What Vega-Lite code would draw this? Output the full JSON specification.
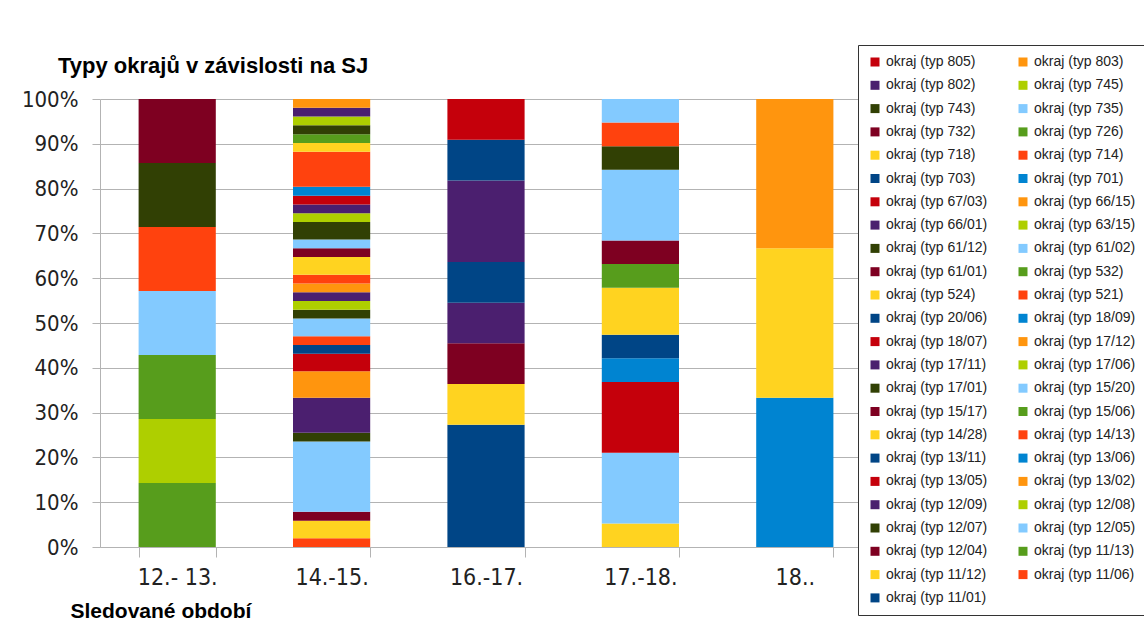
{
  "$schema": "https://vega.github.io/schema/vega-lite/v6.json",
  "width": 772,
  "height": 448,
  "autosize": {"type": "none"},
  "padding": {"left": 100, "top": 99, "right": 272, "bottom": 92},
  "background": "white",
  "title": {
    "text": "Typy okrajů v závislosti na SJ",
    "anchor": "start",
    "frame": "group",
    "font": "Liberation Sans",
    "fontSize": 22,
    "fontWeight": "bold",
    "color": "#000000",
    "dx": -42,
    "dy": 53,
    "offset": 20
  },
  "data": {
    "values": [
      {"obdobi": "12.- 13.", "typ": "okraj (typ 11/13)", "pocet": 1, "poradi": 4},
      {"obdobi": "12.- 13.", "typ": "okraj (typ 12/08)", "pocet": 1, "poradi": 8},
      {"obdobi": "12.- 13.", "typ": "okraj (typ 15/06)", "pocet": 1, "poradi": 16},
      {"obdobi": "12.- 13.", "typ": "okraj (typ 15/20)", "pocet": 1, "poradi": 18},
      {"obdobi": "12.- 13.", "typ": "okraj (typ 521)", "pocet": 1, "poradi": 26},
      {"obdobi": "12.- 13.", "typ": "okraj (typ 61/12)", "pocet": 1, "poradi": 31},
      {"obdobi": "12.- 13.", "typ": "okraj (typ 732)", "pocet": 1, "poradi": 41},

      {"obdobi": "14.-15.", "typ": "okraj (typ 11/06)", "pocet": 1, "poradi": 2},
      {"obdobi": "14.-15.", "typ": "okraj (typ 11/12)", "pocet": 2, "poradi": 3},
      {"obdobi": "14.-15.", "typ": "okraj (typ 12/04)", "pocet": 1, "poradi": 5},
      {"obdobi": "14.-15.", "typ": "okraj (typ 12/05)", "pocet": 8, "poradi": 6},
      {"obdobi": "14.-15.", "typ": "okraj (typ 12/07)", "pocet": 1, "poradi": 7},
      {"obdobi": "14.-15.", "typ": "okraj (typ 12/09)", "pocet": 4, "poradi": 9},
      {"obdobi": "14.-15.", "typ": "okraj (typ 13/02)", "pocet": 3, "poradi": 10},
      {"obdobi": "14.-15.", "typ": "okraj (typ 13/05)", "pocet": 2, "poradi": 11},
      {"obdobi": "14.-15.", "typ": "okraj (typ 13/11)", "pocet": 1, "poradi": 13},
      {"obdobi": "14.-15.", "typ": "okraj (typ 14/13)", "pocet": 1, "poradi": 14},
      {"obdobi": "14.-15.", "typ": "okraj (typ 15/20)", "pocet": 2, "poradi": 18},
      {"obdobi": "14.-15.", "typ": "okraj (typ 17/01)", "pocet": 1, "poradi": 19},
      {"obdobi": "14.-15.", "typ": "okraj (typ 17/06)", "pocet": 1, "poradi": 20},
      {"obdobi": "14.-15.", "typ": "okraj (typ 17/11)", "pocet": 1, "poradi": 21},
      {"obdobi": "14.-15.", "typ": "okraj (typ 17/12)", "pocet": 1, "poradi": 22},
      {"obdobi": "14.-15.", "typ": "okraj (typ 521)", "pocet": 1, "poradi": 26},
      {"obdobi": "14.-15.", "typ": "okraj (typ 524)", "pocet": 2, "poradi": 27},
      {"obdobi": "14.-15.", "typ": "okraj (typ 61/01)", "pocet": 1, "poradi": 29},
      {"obdobi": "14.-15.", "typ": "okraj (typ 61/02)", "pocet": 1, "poradi": 30},
      {"obdobi": "14.-15.", "typ": "okraj (typ 61/12)", "pocet": 2, "poradi": 31},
      {"obdobi": "14.-15.", "typ": "okraj (typ 63/15)", "pocet": 1, "poradi": 32},
      {"obdobi": "14.-15.", "typ": "okraj (typ 66/01)", "pocet": 1, "poradi": 33},
      {"obdobi": "14.-15.", "typ": "okraj (typ 67/03)", "pocet": 1, "poradi": 35},
      {"obdobi": "14.-15.", "typ": "okraj (typ 701)", "pocet": 1, "poradi": 36},
      {"obdobi": "14.-15.", "typ": "okraj (typ 714)", "pocet": 4, "poradi": 38},
      {"obdobi": "14.-15.", "typ": "okraj (typ 718)", "pocet": 1, "poradi": 39},
      {"obdobi": "14.-15.", "typ": "okraj (typ 726)", "pocet": 1, "poradi": 40},
      {"obdobi": "14.-15.", "typ": "okraj (typ 743)", "pocet": 1, "poradi": 43},
      {"obdobi": "14.-15.", "typ": "okraj (typ 745)", "pocet": 1, "poradi": 44},
      {"obdobi": "14.-15.", "typ": "okraj (typ 802)", "pocet": 1, "poradi": 45},
      {"obdobi": "14.-15.", "typ": "okraj (typ 803)", "pocet": 1, "poradi": 46},

      {"obdobi": "16.-17.", "typ": "okraj (typ 11/01)", "pocet": 3, "poradi": 1},
      {"obdobi": "16.-17.", "typ": "okraj (typ 11/12)", "pocet": 1, "poradi": 3},
      {"obdobi": "16.-17.", "typ": "okraj (typ 12/04)", "pocet": 1, "poradi": 5},
      {"obdobi": "16.-17.", "typ": "okraj (typ 12/09)", "pocet": 1, "poradi": 9},
      {"obdobi": "16.-17.", "typ": "okraj (typ 13/11)", "pocet": 1, "poradi": 13},
      {"obdobi": "16.-17.", "typ": "okraj (typ 17/11)", "pocet": 2, "poradi": 21},
      {"obdobi": "16.-17.", "typ": "okraj (typ 20/06)", "pocet": 1, "poradi": 25},
      {"obdobi": "16.-17.", "typ": "okraj (typ 67/03)", "pocet": 1, "poradi": 35},

      {"obdobi": "17.-18.", "typ": "okraj (typ 11/12)", "pocet": 1, "poradi": 3},
      {"obdobi": "17.-18.", "typ": "okraj (typ 12/05)", "pocet": 3, "poradi": 6},
      {"obdobi": "17.-18.", "typ": "okraj (typ 13/05)", "pocet": 3, "poradi": 11},
      {"obdobi": "17.-18.", "typ": "okraj (typ 13/06)", "pocet": 1, "poradi": 12},
      {"obdobi": "17.-18.", "typ": "okraj (typ 13/11)", "pocet": 1, "poradi": 13},
      {"obdobi": "17.-18.", "typ": "okraj (typ 14/28)", "pocet": 2, "poradi": 15},
      {"obdobi": "17.-18.", "typ": "okraj (typ 15/06)", "pocet": 1, "poradi": 16},
      {"obdobi": "17.-18.", "typ": "okraj (typ 15/17)", "pocet": 1, "poradi": 17},
      {"obdobi": "17.-18.", "typ": "okraj (typ 15/20)", "pocet": 3, "poradi": 18},
      {"obdobi": "17.-18.", "typ": "okraj (typ 17/01)", "pocet": 1, "poradi": 19},
      {"obdobi": "17.-18.", "typ": "okraj (typ 521)", "pocet": 1, "poradi": 26},
      {"obdobi": "17.-18.", "typ": "okraj (typ 61/02)", "pocet": 1, "poradi": 30},

      {"obdobi": "18..", "typ": "okraj (typ 13/06)", "pocet": 1, "poradi": 12},
      {"obdobi": "18..", "typ": "okraj (typ 14/28)", "pocet": 1, "poradi": 15},
      {"obdobi": "18..", "typ": "okraj (typ 17/12)", "pocet": 1, "poradi": 22}
    ]
  },
  "mark": {"type": "bar"},
  "encoding": {
    "x": {
      "field": "obdobi",
      "type": "nominal",
      "sort": ["12.- 13.", "14.-15.", "16.-17.", "17.-18.", "18.."],
      "scale": {"paddingInner": 0.5, "paddingOuter": 0.25},
      "axis": {
        "labelAngle": 0,
        "tickBand": "extent",
        "tickSize": 10,
        "tickColor": "#b3b3b3",
        "domainColor": "#b3b3b3",
        "labelPadding": 9,
        "labelFont": "DejaVu Sans Condensed, sans-serif",
        "labelFontSize": 23,
        "labelColor": "#222222",
        "title": "Sledované období",
        "titleFont": "Liberation Sans",
        "titleFontWeight": "bold",
        "titleFontSize": 21,
        "titleColor": "#000000",
        "titleAlign": "left",
        "titleBaseline": "alphabetic",
        "titleX": -30,
        "titleY": 70
      }
    },
    "y": {
      "field": "pocet",
      "type": "quantitative",
      "stack": "normalize",
      "axis": {
        "title": null,
        "format": ".0%",
        "values": [0, 0.1, 0.2, 0.3, 0.4, 0.5, 0.6, 0.7, 0.8, 0.9, 1],
        "grid": true,
        "gridColor": "#b3b3b3",
        "domainColor": "#b3b3b3",
        "tickColor": "#b3b3b3",
        "tickSize": 8,
        "labelPadding": 14,
        "labelFont": "DejaVu Sans Condensed, sans-serif",
        "labelFontSize": 22,
        "labelColor": "#222222"
      }
    },
    "color": {
      "field": "typ",
      "type": "nominal",
      "scale": {
        "domain": [
          "okraj (typ 805)", "okraj (typ 802)", "okraj (typ 743)", "okraj (typ 732)", "okraj (typ 718)", "okraj (typ 703)",
          "okraj (typ 67/03)", "okraj (typ 66/01)", "okraj (typ 61/12)", "okraj (typ 61/01)", "okraj (typ 524)", "okraj (typ 20/06)",
          "okraj (typ 18/07)", "okraj (typ 17/11)", "okraj (typ 17/01)", "okraj (typ 15/17)", "okraj (typ 14/28)", "okraj (typ 13/11)",
          "okraj (typ 13/05)", "okraj (typ 12/09)", "okraj (typ 12/07)", "okraj (typ 12/04)", "okraj (typ 11/12)", "okraj (typ 11/01)",
          "okraj (typ 803)", "okraj (typ 745)", "okraj (typ 735)", "okraj (typ 726)", "okraj (typ 714)", "okraj (typ 701)",
          "okraj (typ 66/15)", "okraj (typ 63/15)", "okraj (typ 61/02)", "okraj (typ 532)", "okraj (typ 521)", "okraj (typ 18/09)",
          "okraj (typ 17/12)", "okraj (typ 17/06)", "okraj (typ 15/20)", "okraj (typ 15/06)", "okraj (typ 14/13)", "okraj (typ 13/06)",
          "okraj (typ 13/02)", "okraj (typ 12/08)", "okraj (typ 12/05)", "okraj (typ 11/13)", "okraj (typ 11/06)"
        ],
        "range": [
          "#C5000B", "#4B1F6F", "#314004", "#7E0021", "#FFD320", "#004586",
          "#C5000B", "#4B1F6F", "#314004", "#7E0021", "#FFD320", "#004586",
          "#C5000B", "#4B1F6F", "#314004", "#7E0021", "#FFD320", "#004586",
          "#C5000B", "#4B1F6F", "#314004", "#7E0021", "#FFD320", "#004586",
          "#FF950E", "#AECF00", "#83CAFF", "#579D1C", "#FF420E", "#0084D1",
          "#FF950E", "#AECF00", "#83CAFF", "#579D1C", "#FF420E", "#0084D1",
          "#FF950E", "#AECF00", "#83CAFF", "#579D1C", "#FF420E", "#0084D1",
          "#FF950E", "#AECF00", "#83CAFF", "#579D1C", "#FF420E"
        ]
      },
      "legend": {
        "orient": "none",
        "legendX": 758,
        "legendY": -54,
        "columns": 2,
        "symbolLimit": 60,
        "title": null,
        "symbolType": "square",
        "symbolSize": 81,
        "symbolStrokeWidth": 0,
        "labelFont": "Liberation Sans",
        "labelFontSize": 14,
        "labelColor": "#222222",
        "labelLimit": 200,
        "labelOffset": 4,
        "rowPadding": 9.3,
        "columnPadding": 28,
        "padding": 10,
        "strokeColor": "#333333",
        "fillColor": "#ffffff"
      }
    },
    "order": {"field": "poradi", "sort": "ascending"}
  },
  "config": {
    "view": {"stroke": null}
  }
}
